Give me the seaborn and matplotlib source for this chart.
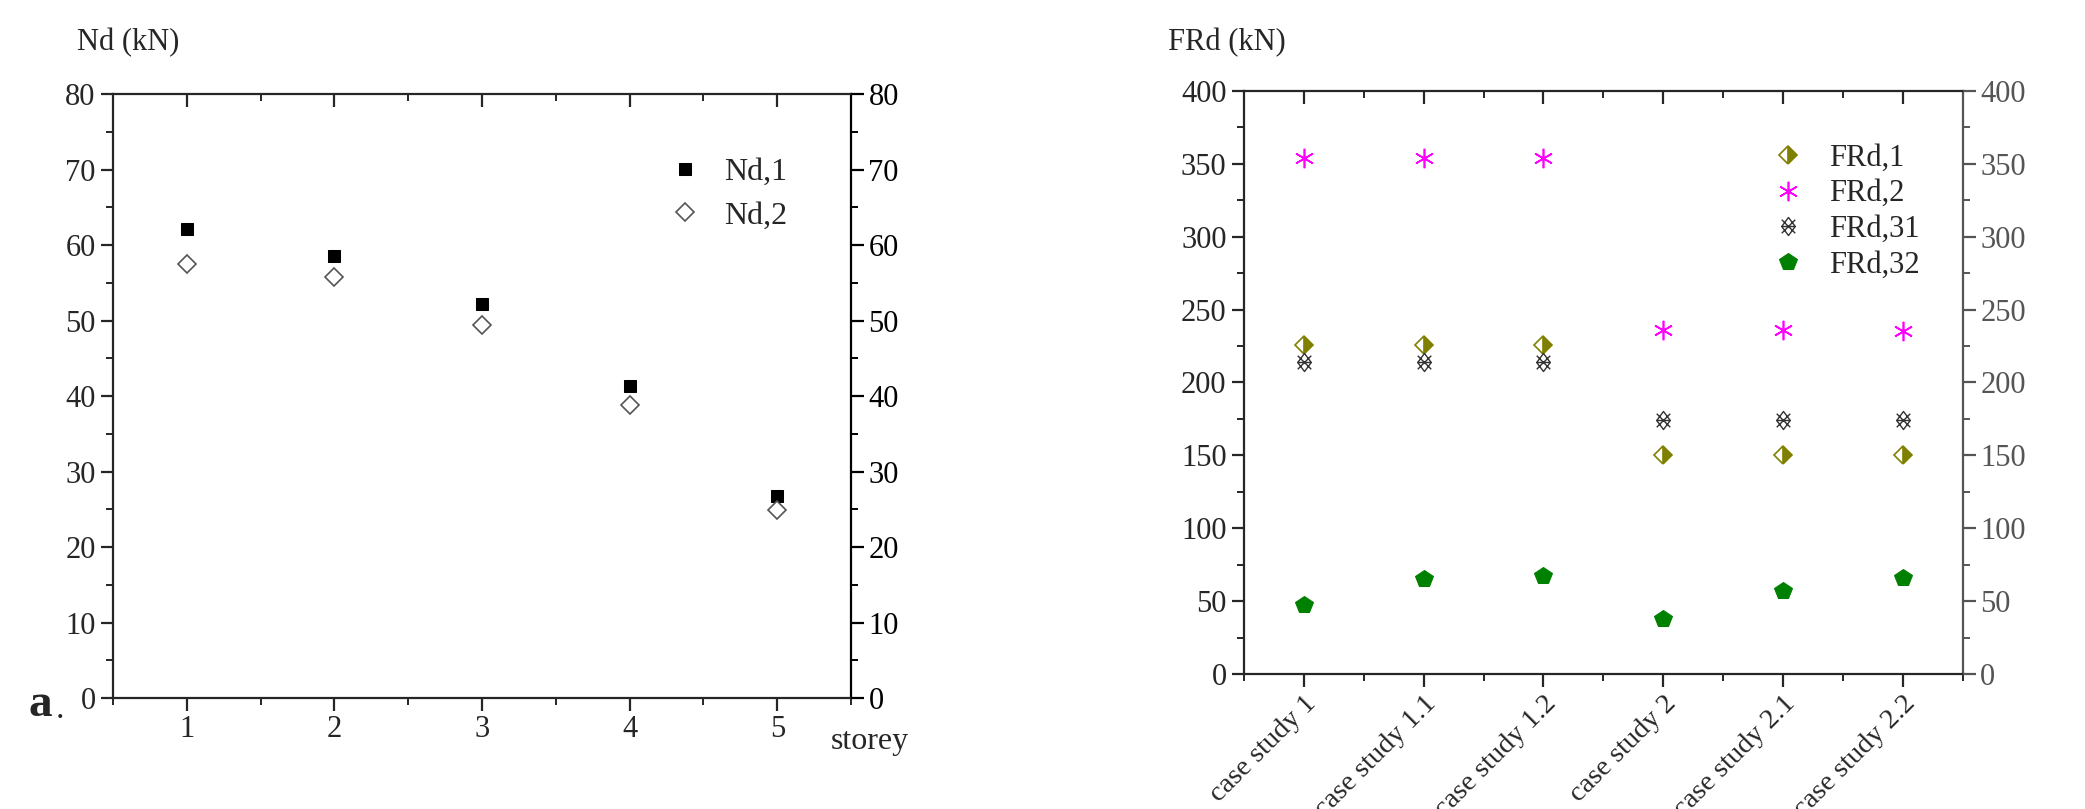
import numpy as np
import pandas as pd
import seaborn as sns
import matplotlib.pyplot as plt
from matplotlib.path import Path
from matplotlib.ticker import MultipleLocator

# data
storey = [1, 2, 3, 4, 5]
nd_1 = [62.1, 58.6, 52.2, 41.3, 26.8]
nd_2 = [57.5, 55.8, 49.4, 38.8, 24.9]

cases = ["case study 1", "case study 1.1", "case study 1.2",
         "case study 2", "case study 2.1", "case study 2.2"]
frd_1 = [226, 226, 226, 150, 150, 150]
frd_2 = [354, 354, 354, 236, 236, 235]
frd_31 = [214, 214, 214, 174, 174, 174]
frd_32 = [47, 65, 67, 38, 57, 66]

sns.set_style("ticks")
plt.rcParams["font.family"] = ["Liberation Serif", "DejaVu Serif"]
plt.rcParams["font.size"] = 22
plt.rcParams["axes.linewidth"] = 1.6

TICK = 22

# lattice marker for FRd,31
lattice = Path(
    [(0, 1), (0.75, 0), (0, -1), (-0.75, 0), (0, 1),
     (-0.75, 0.75), (0.75, -0.75), (-0.75, -0.75), (0.75, 0.75),
     (-0.75, 0.0), (0.75, 0.0)],
    [Path.MOVETO, Path.LINETO, Path.LINETO, Path.LINETO, Path.CLOSEPOLY,
     Path.MOVETO, Path.LINETO, Path.MOVETO, Path.LINETO,
     Path.MOVETO, Path.LINETO])


def points(ax, x, y, label, **kw):
    sns.lineplot(x=x, y=y, ax=ax, label=label, linestyle="", errorbar=None,
                 sort=False, **kw)


def frame(ax, ylim, major, minor, side_color="black"):
    ax.set_ylim(*ylim)
    ax.yaxis.set_major_locator(MultipleLocator(major))
    ax.yaxis.set_minor_locator(MultipleLocator(minor))
    ax.tick_params(axis="y", labelsize=TICK)
    ax.tick_params(which="major", direction="out", length=9, width=1.6)
    ax.tick_params(which="minor", direction="out", length=5, width=1.4)
    for s in ax.spines.values():
        s.set_visible(True)
    ax.spines["right"].set_color(side_color)
    # right axis: same scale, labels on the right
    rax = ax.twinx()
    rax.set_ylim(*ylim)
    rax.yaxis.set_major_locator(MultipleLocator(major))
    rax.yaxis.set_minor_locator(MultipleLocator(minor))
    rax.tick_params(which="major", direction="out", length=9, width=1.6,
                    labelsize=TICK, colors=side_color)
    rax.tick_params(which="minor", direction="out", length=5, width=1.4, colors=side_color)
    for s in rax.spines.values():
        s.set_visible(False)
    # top axis: ticks pointing in
    tax = ax.secondary_xaxis("top")
    tax.set_xticks(ax.get_xticks())
    tax.xaxis.set_minor_locator(ax.xaxis.get_minor_locator())
    tax.tick_params(which="major", direction="in", length=9, width=1.6, labeltop=False)
    tax.tick_params(which="minor", direction="in", length=5, width=1.4)
    tax.spines["top"].set_visible(False)
    return rax


fig = plt.figure(figsize=(20.85, 8.09), dpi=100)
ax1 = fig.add_axes([0.0542, 0.1372, 0.354, 0.7466])
ax2 = fig.add_axes([0.5966, 0.1669, 0.3448, 0.7206])

# ---- left: Nd per storey
points(ax1, storey, nd_1, "Nd,1", marker="s", markersize=8, color="black",
       markeredgecolor="black")
points(ax1, storey, nd_2, "Nd,2", marker="D", markersize=9, color="#555555",
       markerfacecolor="white", markeredgecolor="#555555", markeredgewidth=1.2)
ax1.set_xlim(0.5, 5.5)
ax1.set_xticks(storey)
ax1.xaxis.set_minor_locator(MultipleLocator(0.5))
ax1.tick_params(axis="x", labelsize=TICK)
ax1.set_xlabel("")
ax1.set_ylabel("")
ax1.legend(loc="upper right", bbox_to_anchor=(0.913, 0.895), frameon=False,
           fontsize=23, handletextpad=0.6, labelspacing=0.45, borderpad=0,
           borderaxespad=0, handlelength=1.2)
frame(ax1, (0, 80), 10, 5)

fig.text(77 / 2085, 1 - 43 / 809, "Nd (kN)", fontsize=22, va="center", ha="left")
fig.text(831 / 2085, 1 - 741 / 809, "storey", fontsize=23, va="center", ha="left")
fig.text(29 / 2085, 1 - 705 / 809, "a", fontsize=34, fontweight="bold",
         va="center", ha="left")
fig.text(56 / 2085, 1 - 710 / 809, ".", fontsize=24, va="center", ha="left")

# ---- right: FRd per case study
pos = list(range(len(cases)))
points(ax2, pos, frd_1, "FRd,1", marker="D", markersize=9, color="#808000",
       fillstyle="right", markerfacecoloralt="white", markeredgecolor="#808000",
       markeredgewidth=1.2)
points(ax2, pos, frd_2, "FRd,2", marker=(6, 2, 0), markersize=14, color="#ff00ff",
       markeredgecolor="#ff00ff", markeredgewidth=1.2)
points(ax2, pos, frd_31, "FRd,31", marker=lattice, markersize=13, color="#333333",
       markerfacecolor="none", markeredgecolor="#333333", markeredgewidth=1.0)
points(ax2, pos, frd_32, "FRd,32", marker="p", markersize=13, color="#008000",
       markeredgecolor="#008000")
ax2.set_xlim(-0.5, 5.5)
ax2.set_xticks(pos)
ax2.set_xticklabels(cases, rotation=45, ha="right", rotation_mode="anchor", fontsize=20.5)
ax2.xaxis.set_minor_locator(MultipleLocator(0.5))
ax2.set_xlabel("")
ax2.set_ylabel("")
ax2.legend(loc="upper right", bbox_to_anchor=(0.94, 0.91), frameon=False,
           fontsize=22, handletextpad=0.75, labelspacing=0.22, borderpad=0,
           borderaxespad=0, handlelength=1.2)
frame(ax2, (0, 400), 50, 25, side_color="#555555")

fig.text(1168 / 2085, 1 - 43 / 809, "FRd (kN)", fontsize=22, va="center", ha="left")

fig.savefig("out.png", dpi=100, facecolor="white")
